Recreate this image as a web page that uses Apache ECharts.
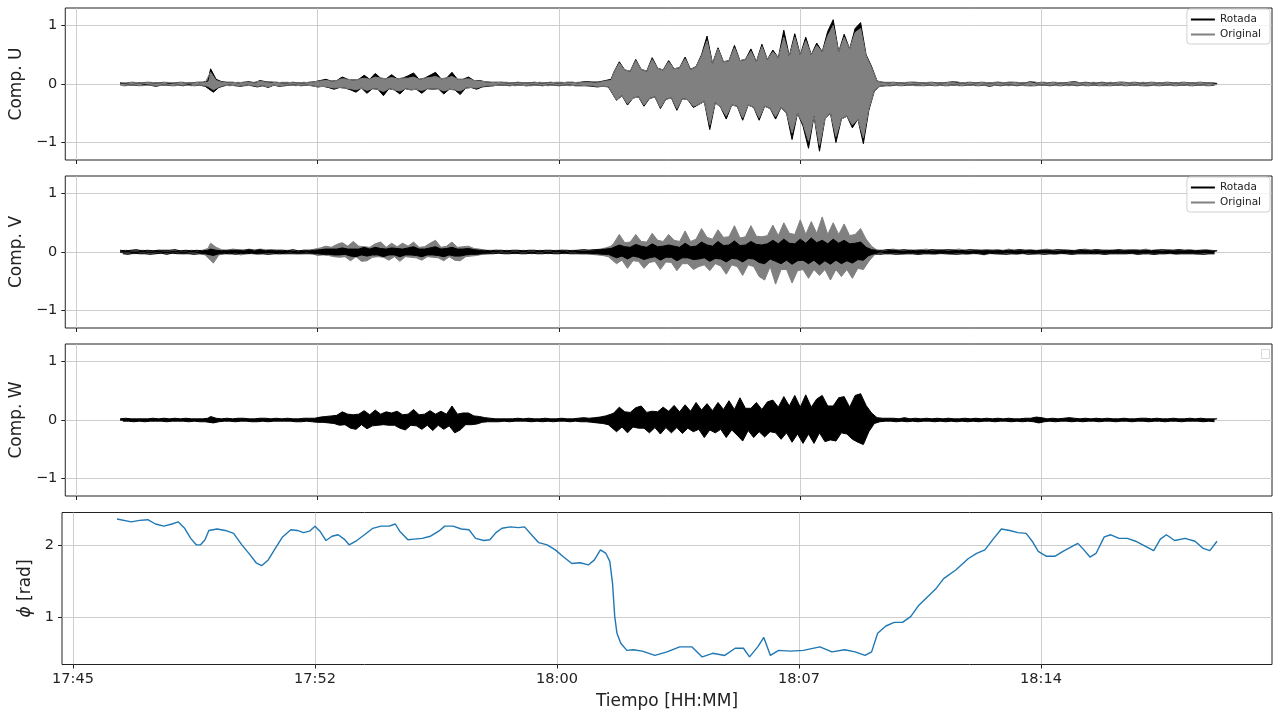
<!DOCTYPE html>
<html><head><meta charset="utf-8">
<script src="https://cdn.jsdelivr.net/npm/echarts@6/dist/echarts.min.js"></script>
<style>html,body{margin:0;padding:0;background:#fff}#c{width:1277px;height:715px}</style>
</head><body><div id="c"></div>
<script>
// time in seconds after 17:45:00
const startSec = 100, stepSec = 5;
const tickSec = [20, 460, 900, 1340, 1780];
const ampTicks = [-1, 0, 1];
const phiTicks = [1, 2];

const uRot = [
0.02,-0.03,0.01,-0.02,0.03,-0.02,0.02,-0.03,0.02,-0.01,
0.03,-0.02,0.02,-0.04,0.02,-0.02,0.03,-0.02,0.01,-0.03,
0.02,-0.02,0.03,-0.03,0.02,-0.01,0.02,-0.03,0.03,-0.02,
0.03,-0.04,0.05,0.26,-0.14,0.08,-0.06,0.04,-0.03,0.03,
-0.02,0.03,-0.03,0.02,-0.04,0.03,-0.02,0.04,-0.03,0.02,
-0.05,0.06,-0.03,0.04,-0.06,0.03,-0.02,0.03,-0.04,0.02,
-0.03,0.02,-0.02,0.03,-0.02,0.02,-0.03,0.02,-0.02,0.03,
-0.03,0.04,-0.05,0.06,-0.04,0.08,-0.06,0.05,-0.09,0.06,
-0.06,0.12,-0.07,0.08,-0.1,0.07,-0.14,0.08,-0.07,0.15,
-0.16,0.08,-0.08,0.18,-0.09,0.1,-0.2,0.09,-0.08,0.16,
-0.1,0.09,-0.17,0.1,-0.08,0.14,-0.1,0.19,-0.09,0.08,
-0.16,0.1,-0.08,0.15,-0.09,0.2,-0.08,0.09,-0.17,0.1,
-0.09,0.2,-0.1,0.08,-0.18,0.08,-0.07,0.12,-0.06,0.06,
-0.09,0.06,-0.05,0.04,-0.04,0.03,-0.03,0.03,-0.02,0.03,
-0.02,0.02,-0.03,0.02,-0.02,0.03,-0.02,0.02,-0.03,0.02,
-0.02,0.03,-0.02,0.02,-0.03,0.02,-0.02,0.03,-0.02,0.02,
-0.03,0.02,-0.02,0.03,-0.02,0.03,-0.03,0.02,-0.03,0.04,
-0.03,0.04,-0.04,0.03,-0.05,0.04,-0.04,0.06,-0.05,0.08,
0.2,-0.28,0.38,-0.2,0.24,-0.36,0.22,-0.24,0.42,-0.22,
0.25,-0.38,0.22,-0.25,0.45,-0.22,0.27,-0.42,0.24,-0.26,
0.4,-0.24,0.26,-0.45,0.28,-0.25,0.46,-0.27,0.25,-0.4,
0.3,-0.35,0.5,-0.3,0.82,-0.78,0.35,-0.32,0.62,-0.4,
0.38,-0.6,0.4,-0.36,0.66,-0.38,0.4,-0.62,0.42,-0.36,
0.6,-0.4,0.38,-0.62,0.68,-0.38,0.42,-0.42,0.58,-0.6,
0.45,-0.4,0.92,-0.5,0.48,-0.95,0.86,-0.5,0.5,-0.72,
0.8,-1.1,0.5,-0.55,0.7,-1.15,0.55,-0.6,0.9,-0.5,
1.1,-1.0,0.55,-0.6,0.85,-0.55,0.6,-0.75,0.95,-0.6,
1.05,-1.02,0.5,-0.45,0.3,-0.12,0.05,-0.04,0.03,-0.03,
0.02,-0.03,0.03,-0.02,0.02,-0.03,0.02,-0.02,0.03,-0.02,
0.03,-0.02,0.02,-0.03,0.02,-0.02,0.03,-0.03,0.02,-0.02,
0.02,-0.03,0.03,-0.02,0.04,-0.02,0.02,-0.03,0.02,-0.02,
0.03,-0.02,0.02,-0.03,0.03,-0.02,0.02,-0.04,0.02,-0.02,
0.03,-0.03,0.02,-0.02,0.03,-0.02,0.03,-0.03,0.02,-0.02,
0.02,-0.03,0.04,-0.03,0.02,-0.02,0.03,-0.02,0.02,-0.03,
0.03,-0.02,0.02,-0.03,0.02,-0.02,0.03,-0.02,0.04,-0.03,
0.02,-0.02,0.03,-0.03,0.02,-0.02,0.02,-0.03,0.03,-0.02,
0.02,-0.03,0.02,-0.02,0.03,-0.02,0.03,-0.03,0.02,-0.02,
0.03,-0.02,0.02,-0.03,0.02,-0.03,0.03,-0.02,0.02,-0.03,
0.02,-0.02,0.03,-0.02,0.02,-0.03,0.02,-0.02,0.03,-0.02,
0.02,-0.03,0.02,-0.02,0.03,-0.02,0.02,-0.03,0.02,-0.02,
0.01];

const uOrig = [
-0.02,0.02,-0.03,0.02,-0.02,0.03,-0.02,0.02,-0.03,0.02,
-0.02,0.03,-0.02,0.02,-0.03,0.02,-0.02,0.03,-0.02,0.02,
-0.03,0.02,-0.02,0.03,-0.02,0.02,-0.03,0.02,-0.02,0.03,
-0.02,0.03,-0.04,0.2,-0.1,0.06,-0.05,0.03,-0.02,0.02,
-0.03,0.02,-0.02,0.03,-0.03,0.02,-0.03,0.03,-0.02,0.03,
-0.04,0.05,-0.03,0.03,-0.05,0.04,-0.02,0.02,-0.03,0.03,
-0.02,0.03,-0.02,0.02,-0.03,0.02,-0.02,0.03,-0.02,0.02,
-0.03,0.04,-0.05,0.05,-0.04,0.06,-0.05,0.05,-0.07,0.06,
-0.06,0.09,-0.07,0.08,-0.08,0.07,-0.1,0.08,-0.07,0.1,
-0.11,0.08,-0.08,0.12,-0.09,0.1,-0.13,0.09,-0.08,0.11,
-0.1,0.09,-0.12,0.1,-0.08,0.1,-0.1,0.12,-0.09,0.08,
-0.11,0.1,-0.08,0.11,-0.09,0.13,-0.08,0.09,-0.12,0.1,
-0.09,0.13,-0.1,0.08,-0.12,0.08,-0.07,0.09,-0.06,0.06,
-0.07,0.05,-0.04,0.04,-0.03,0.03,-0.03,0.02,-0.02,0.03,
-0.02,0.03,-0.02,0.02,-0.03,0.02,-0.02,0.02,-0.03,0.02,
-0.03,0.02,-0.02,0.03,-0.02,0.02,-0.03,0.02,-0.02,0.03,
-0.02,0.03,-0.02,0.02,-0.03,0.02,-0.02,0.03,-0.02,0.03,
-0.03,0.03,-0.03,0.04,-0.04,0.03,-0.04,0.05,-0.04,0.06,
0.2,-0.28,0.36,-0.2,0.24,-0.34,0.22,-0.24,0.4,-0.22,
0.25,-0.36,0.22,-0.25,0.42,-0.22,0.27,-0.4,0.24,-0.26,
0.38,-0.24,0.26,-0.42,0.28,-0.25,0.43,-0.27,0.25,-0.38,
0.3,-0.35,0.48,-0.3,0.74,-0.7,0.35,-0.32,0.6,-0.4,
0.38,-0.55,0.4,-0.36,0.62,-0.38,0.4,-0.58,0.42,-0.36,
0.56,-0.4,0.38,-0.58,0.64,-0.38,0.42,-0.42,0.55,-0.56,
0.45,-0.4,0.8,-0.5,0.48,-0.84,0.8,-0.5,0.5,-0.68,
0.74,-0.98,0.5,-0.55,0.66,-1.05,0.55,-0.6,0.82,-0.5,
1.0,-0.9,0.55,-0.6,0.8,-0.55,0.6,-0.7,0.88,-0.6,
0.95,-0.92,0.48,-0.42,0.28,-0.12,0.05,-0.04,0.03,-0.03,
-0.02,0.03,-0.02,0.02,-0.03,0.02,-0.02,0.03,-0.02,0.02,
-0.03,0.02,-0.03,0.02,-0.02,0.03,-0.02,0.02,-0.03,0.02,
-0.02,0.02,-0.03,0.03,-0.02,0.04,-0.03,0.02,-0.02,0.03,
-0.02,0.02,-0.03,0.02,-0.02,0.03,-0.02,0.02,-0.03,0.03,
-0.02,0.03,-0.02,0.02,-0.03,0.02,-0.02,0.03,-0.02,0.02,
-0.03,0.02,-0.02,0.04,-0.03,0.02,-0.02,0.03,-0.02,0.02,
-0.02,0.03,-0.03,0.02,-0.02,0.02,-0.03,0.03,-0.02,0.03,
-0.02,0.02,-0.03,0.02,-0.02,0.03,-0.02,0.02,-0.03,0.02,
-0.03,0.03,-0.02,0.02,-0.02,0.03,-0.03,0.02,-0.02,0.03,
-0.02,0.02,-0.03,0.03,-0.02,0.02,-0.02,0.03,-0.03,0.02,
-0.02,0.03,-0.02,0.02,-0.03,0.02,-0.02,0.03,-0.02,0.02,
-0.03,0.02,-0.02,0.03,-0.02,0.02,-0.03,0.02,-0.02,0.02,
-0.01];

const vRot = [
0.03,-0.03,0.02,-0.04,0.03,-0.02,0.04,-0.03,0.02,-0.03,
0.03,-0.04,0.02,-0.03,0.03,-0.02,0.03,-0.04,0.03,-0.02,
0.04,-0.03,0.02,-0.03,0.03,-0.03,0.02,-0.04,0.03,-0.03,
0.02,-0.03,0.03,0.05,-0.06,0.03,-0.03,0.02,-0.03,0.03,
-0.02,0.03,-0.04,0.03,-0.02,0.03,-0.03,0.04,-0.02,0.03,
-0.03,0.04,-0.03,0.02,-0.04,0.03,-0.03,0.03,-0.02,0.03,
-0.03,0.02,-0.03,0.04,-0.03,0.02,-0.03,0.03,-0.03,0.03,
-0.03,0.03,-0.03,0.04,-0.04,0.05,-0.04,0.05,-0.05,0.05,
-0.05,0.07,-0.04,0.05,-0.07,0.05,-0.08,0.05,-0.05,0.08,
-0.07,0.05,-0.05,0.08,-0.05,0.06,-0.08,0.05,-0.05,0.07,
-0.05,0.06,-0.08,0.05,-0.05,0.07,-0.05,0.09,-0.06,0.05,
-0.08,0.05,-0.05,0.07,-0.05,0.09,-0.06,0.05,-0.08,0.06,
-0.05,0.08,-0.07,0.05,-0.07,0.05,-0.05,0.06,-0.04,0.04,
-0.04,0.03,-0.03,0.03,-0.03,0.02,-0.03,0.03,-0.02,0.03,
-0.03,0.02,-0.03,0.03,-0.02,0.03,-0.03,0.02,-0.03,0.03,
-0.02,0.03,-0.03,0.02,-0.03,0.03,-0.02,0.03,-0.03,0.02,
-0.03,0.03,-0.02,0.03,-0.03,0.02,-0.03,0.03,-0.03,0.04,
-0.03,0.03,-0.03,0.04,-0.03,0.04,-0.04,0.05,-0.04,0.06,
0.08,-0.1,0.12,-0.07,0.09,-0.12,0.08,-0.07,0.13,-0.09,
0.1,-0.13,0.08,-0.1,0.14,-0.08,0.09,-0.14,0.1,-0.09,
0.12,-0.09,0.1,-0.15,0.08,-0.1,0.15,-0.1,0.09,-0.13,
0.1,-0.12,0.17,-0.1,0.12,-0.16,0.1,-0.11,0.18,-0.12,
0.11,-0.17,0.12,-0.11,0.19,-0.12,0.11,-0.17,0.12,-0.11,
0.18,-0.12,0.13,-0.18,0.12,-0.2,0.14,-0.12,0.2,-0.16,
0.14,-0.2,0.22,-0.14,0.15,-0.21,0.14,-0.15,0.22,-0.14,
0.15,-0.2,0.24,-0.14,0.16,-0.22,0.2,-0.15,0.14,-0.21,
0.22,-0.14,0.15,-0.2,0.2,-0.15,0.14,-0.19,0.15,-0.13,
0.17,-0.14,0.08,-0.06,0.04,-0.03,0.03,-0.04,0.03,-0.03,
0.04,-0.03,0.03,-0.04,0.03,-0.03,0.04,-0.03,0.02,-0.03,
0.03,-0.04,0.03,-0.03,0.02,-0.03,0.04,-0.03,0.03,-0.02,
0.03,-0.03,0.04,-0.03,0.03,-0.04,0.02,-0.03,0.03,-0.03,
0.04,-0.02,0.03,-0.03,0.03,-0.04,0.03,-0.02,0.03,-0.03,
0.03,-0.03,0.02,-0.04,0.03,-0.03,0.03,-0.03,0.04,-0.02,
0.03,-0.04,0.03,-0.03,0.02,-0.03,0.03,-0.04,0.03,-0.03,
0.03,-0.03,0.04,-0.02,0.03,-0.03,0.03,-0.04,0.02,-0.03,
0.04,-0.03,0.03,-0.03,0.03,-0.02,0.04,-0.03,0.03,-0.04,
0.03,-0.03,0.02,-0.03,0.04,-0.03,0.03,-0.03,0.03,-0.02,
0.03,-0.04,0.03,-0.03,0.03,-0.03,0.02,-0.04,0.03,-0.03,
0.04,-0.03,0.03,-0.02,0.03,-0.03,0.04,-0.03,0.03,-0.03,
0.03,-0.03,0.02,-0.03,0.03,-0.04,0.03,-0.03,0.02,-0.03,
0.02];

const vOrig = [
0.02,-0.02,0.03,-0.02,0.02,-0.03,0.02,-0.02,0.03,-0.02,
0.02,-0.03,0.02,-0.02,0.03,-0.02,0.02,-0.03,0.02,-0.02,
0.03,-0.02,0.02,-0.03,0.02,-0.02,0.03,-0.02,0.02,-0.03,
0.03,-0.05,0.06,0.15,-0.19,0.08,-0.05,0.04,-0.03,0.03,
-0.04,0.05,-0.03,0.04,-0.05,0.03,-0.03,0.05,-0.03,0.03,
-0.04,0.05,-0.03,0.04,-0.03,0.04,-0.03,0.03,-0.04,0.03,
-0.03,0.03,-0.02,0.03,-0.03,0.02,-0.03,0.03,-0.02,0.03,
-0.03,0.05,-0.06,0.07,-0.05,0.1,-0.06,0.08,-0.08,0.13,
-0.09,0.16,-0.08,0.1,-0.15,0.18,-0.08,0.1,-0.16,0.09,
-0.15,0.08,-0.09,0.14,-0.08,0.17,-0.09,0.08,-0.14,0.15,
-0.08,0.09,-0.16,0.15,-0.08,0.1,-0.09,0.17,-0.1,0.08,
-0.14,0.09,-0.08,0.15,-0.09,0.2,-0.1,0.08,-0.15,0.1,
-0.08,0.17,-0.14,0.08,-0.15,0.09,-0.08,0.1,-0.07,0.06,
-0.06,0.05,-0.04,0.03,-0.03,0.03,-0.02,0.03,-0.02,0.02,
-0.02,0.03,-0.02,0.02,-0.03,0.02,-0.02,0.03,-0.02,0.02,
-0.03,0.02,-0.02,0.03,-0.02,0.02,-0.03,0.02,-0.02,0.03,
-0.02,0.03,-0.03,0.02,-0.02,0.03,-0.02,0.03,-0.03,0.03,
-0.03,0.03,-0.04,0.04,-0.05,0.05,-0.06,0.07,-0.08,0.1,
0.15,-0.2,0.3,-0.14,0.16,-0.28,0.17,-0.15,0.3,-0.16,
0.18,-0.28,0.17,-0.18,0.32,-0.16,0.2,-0.3,0.18,-0.17,
0.3,-0.18,0.2,-0.32,0.18,-0.2,0.36,-0.2,0.18,-0.3,
0.22,-0.25,0.4,-0.22,0.25,-0.32,0.22,-0.2,0.38,-0.24,
0.25,-0.38,0.26,-0.22,0.45,-0.25,0.24,-0.4,0.26,-0.22,
0.45,-0.25,0.27,-0.42,0.26,-0.48,0.28,-0.25,0.46,-0.55,
0.28,-0.3,0.5,-0.3,0.32,-0.53,0.3,-0.32,0.55,-0.3,
0.3,-0.45,0.52,-0.3,0.32,-0.4,0.6,-0.3,0.3,-0.48,
0.5,-0.3,0.3,-0.42,0.48,-0.3,0.28,-0.45,0.3,-0.28,
0.4,-0.3,0.22,-0.16,0.1,-0.05,0.03,-0.02,0.02,-0.03,
0.04,-0.03,0.05,-0.03,0.03,-0.04,0.03,-0.03,0.04,-0.03,
0.03,-0.04,0.04,-0.03,0.05,-0.03,0.03,-0.04,0.04,-0.03,
0.04,-0.03,0.03,-0.04,0.04,-0.03,0.05,-0.03,0.03,-0.04,
0.03,-0.03,0.04,-0.03,0.03,-0.05,0.04,-0.03,0.03,-0.03,
0.04,-0.04,0.03,-0.03,0.05,-0.03,0.03,-0.04,0.04,-0.03,
0.03,-0.03,0.04,-0.04,0.03,-0.03,0.04,-0.03,0.05,-0.03,
0.03,-0.04,0.03,-0.03,0.04,-0.03,0.03,-0.04,0.03,-0.03,
0.04,-0.03,0.05,-0.03,0.03,-0.04,0.04,-0.03,0.03,-0.04,
0.03,-0.03,0.04,-0.03,0.04,-0.03,0.03,-0.03,0.04,-0.03,
0.04,-0.04,0.03,-0.03,0.05,-0.03,0.03,-0.04,0.04,-0.03,
0.03,-0.03,0.04,-0.03,0.03,-0.04,0.04,-0.03,0.03,-0.03,
0.04,-0.03,0.03,-0.04,0.03,-0.03,0.04,-0.03,0.03,-0.03,
0.02];

const wRot = [
0.02,-0.02,0.03,-0.02,0.02,-0.03,0.02,-0.02,0.02,-0.03,
0.02,-0.02,0.03,-0.02,0.02,-0.02,0.03,-0.03,0.02,-0.02,
0.03,-0.02,0.02,-0.02,0.03,-0.03,0.02,-0.02,0.02,-0.03,
0.02,-0.03,0.03,0.06,-0.05,0.03,-0.03,0.02,-0.02,0.03,
-0.02,0.02,-0.03,0.03,-0.02,0.03,-0.02,0.02,-0.03,0.02,
-0.03,0.03,-0.02,0.03,-0.03,0.02,-0.02,0.03,-0.02,0.02,
-0.02,0.03,-0.02,0.02,-0.03,0.02,-0.03,0.03,-0.02,0.03,
-0.03,0.03,-0.04,0.05,-0.04,0.06,-0.05,0.07,-0.06,0.08,
-0.09,0.14,-0.08,0.1,-0.14,0.09,-0.16,0.1,-0.08,0.16,
-0.15,0.09,-0.1,0.17,-0.09,0.1,-0.08,0.14,-0.09,0.12,
-0.09,0.15,-0.14,0.09,-0.17,0.1,-0.09,0.18,-0.1,0.09,
-0.16,0.1,-0.09,0.16,-0.18,0.1,-0.09,0.15,-0.16,0.1,
-0.1,0.24,-0.22,0.1,-0.17,0.12,-0.08,0.12,-0.08,0.07,
-0.07,0.06,-0.04,0.04,-0.03,0.03,-0.03,0.02,-0.03,0.02,
-0.02,0.02,-0.03,0.02,-0.02,0.03,-0.02,0.02,-0.02,0.03,
-0.03,0.02,-0.02,0.02,-0.03,0.03,-0.02,0.02,-0.03,0.02,
-0.02,0.03,-0.02,0.02,-0.03,0.02,-0.02,0.03,-0.03,0.04,
-0.03,0.03,-0.04,0.04,-0.05,0.05,-0.06,0.07,-0.08,0.1,
0.12,-0.2,0.22,-0.12,0.14,-0.22,0.13,-0.12,0.21,-0.14,
0.24,-0.14,0.13,-0.22,0.15,-0.13,0.14,-0.24,0.22,-0.13,
0.15,-0.22,0.25,-0.13,0.14,-0.23,0.26,-0.14,0.15,-0.2,
0.3,-0.16,0.17,-0.3,0.28,-0.17,0.16,-0.22,0.3,-0.16,
0.18,-0.3,0.33,-0.17,0.18,-0.26,0.38,-0.36,0.2,-0.18,
0.2,-0.3,0.3,-0.2,0.18,-0.29,0.31,-0.2,0.34,-0.22,
0.22,-0.33,0.4,-0.22,0.24,-0.38,0.42,-0.24,0.22,-0.4,
0.43,-0.24,0.22,-0.4,0.36,-0.22,0.42,-0.37,0.24,-0.34,
0.24,-0.36,0.38,-0.22,0.4,-0.24,0.22,-0.33,0.42,-0.38,
0.45,-0.42,0.25,-0.2,0.12,-0.06,0.04,-0.03,0.03,-0.02,
0.03,-0.02,0.03,-0.03,0.02,-0.02,0.04,-0.03,0.02,-0.02,
0.03,-0.03,0.02,-0.02,0.03,-0.02,0.02,-0.03,0.03,-0.02,
0.02,-0.03,0.03,-0.02,0.02,-0.03,0.02,-0.02,0.03,-0.03,
0.02,-0.02,0.03,-0.03,0.02,-0.02,0.03,-0.02,0.02,-0.03,
0.03,-0.02,0.02,-0.02,0.03,-0.03,0.02,-0.02,0.02,-0.03,
0.03,-0.02,0.03,-0.03,0.05,-0.05,0.04,-0.03,0.02,-0.02,
0.03,-0.03,0.02,-0.02,0.03,-0.02,0.04,-0.03,0.03,-0.02,
0.02,-0.03,0.03,-0.02,0.02,-0.02,0.03,-0.03,0.02,-0.02,
0.03,-0.02,0.02,-0.03,0.02,-0.02,0.03,-0.02,0.02,-0.03,
0.02,-0.02,0.03,-0.02,0.03,-0.03,0.02,-0.02,0.03,-0.02,
0.02,-0.03,0.02,-0.02,0.03,-0.02,0.02,-0.03,0.02,-0.02,
0.03,-0.02,0.02,-0.02,0.03,-0.03,0.02,-0.02,0.02,-0.03,
0.02];

const phiSec = [100,126,141,156,170,185,200,211,223,234,244,252,260,267,282,297,312,327,342,353,363,375,387,401,416,428,439,450,460,469,480,491,502,513,522,536,550,565,580,595,606,614,629,640,655,670,685,696,711,726,740,752,767,778,789,800,815,830,841,856,867,882,897,912,927,942,957,968,979,989,996,1001,1005,1009,1016,1027,1039,1055,1078,1100,1123,1145,1164,1183,1205,1224,1239,1250,1265,1276,1288,1303,1325,1348,1378,1400,1423,1442,1460,1472,1483,1498,1513,1528,1543,1558,1573,1588,1603,1625,1648,1663,1678,1693,1708,1723,1738,1753,1764,1775,1790,1805,1820,1835,1847,1858,1869,1880,1895,1907,1922,1937,1952,1970,1985,1997,2008,2023,2042,2060,2075,2087,2100];
const phiVal = [2.37,2.33,2.35,2.36,2.30,2.27,2.30,2.33,2.24,2.10,2.01,2.01,2.08,2.21,2.23,2.21,2.17,2.01,1.87,1.76,1.72,1.80,1.95,2.12,2.22,2.21,2.18,2.20,2.27,2.20,2.07,2.13,2.15,2.09,2.01,2.07,2.15,2.24,2.27,2.27,2.30,2.20,2.08,2.09,2.10,2.13,2.20,2.27,2.27,2.23,2.22,2.10,2.07,2.08,2.18,2.24,2.26,2.25,2.26,2.13,2.04,2.01,1.94,1.84,1.75,1.76,1.73,1.80,1.94,1.89,1.78,1.47,1.01,0.78,0.64,0.54,0.55,0.53,0.47,0.52,0.59,0.59,0.45,0.50,0.47,0.57,0.57,0.45,0.59,0.72,0.47,0.54,0.53,0.54,0.59,0.52,0.55,0.52,0.47,0.52,0.78,0.88,0.93,0.93,1.01,1.17,1.28,1.39,1.54,1.66,1.82,1.89,1.94,2.09,2.23,2.21,2.18,2.17,2.06,1.92,1.85,1.85,1.92,1.98,2.03,1.94,1.84,1.89,2.12,2.15,2.10,2.10,2.06,1.99,1.93,2.09,2.15,2.07,2.10,2.06,1.96,1.93,2.06];

const FONT = 'DejaVu Sans';
const toPairs = arr => arr.map((v, i) => [startSec + i * stepSec, v]);
const phiPairs = phiSec.map((t, i) => [t, phiVal[i]]);

function fmtTime(v) {
  const tot = 17 * 60 + 45 + Math.floor(v / 60);
  const h = Math.floor(tot / 60), m = tot % 60;
  return h + ':' + (m < 10 ? '0' : '') + m;
}
function fmtNum(v) { return v < 0 ? '\u2212' + (-v) : String(v); }

const tops = [8, 176, 344, 512.5];
const grids = tops.map(t => ({
  left: 62, right: 5, top: t, height: 152,
  show: true, borderColor: '#222', borderWidth: 1, backgroundColor: '#fff'
}));

const gridLine = { show: true, lineStyle: { color: '#c2c2c2', width: 0.8 } };
const xAxes = tops.map((t, i) => ({
  type: 'value', gridIndex: i, min: 0, max: 2200,
  axisLine: { show: false, onZero: false },
  axisTick: { show: true, length: 4, customValues: tickSec, lineStyle: { color: '#222' } },
  axisLabel: { show: i === 3, customValues: tickSec, formatter: fmtTime, margin: 7,
    fontFamily: FONT, fontSize: 14.5, color: '#222' },
  splitLine: gridLine,
  name: i === 3 ? 'Tiempo [HH:MM]' : '', nameLocation: 'middle', nameGap: 29,
  nameTextStyle: { fontFamily: FONT, fontSize: 17, color: '#222' }
}));
const yNames = ['Comp. U', 'Comp. V', 'Comp. W', '{i|\u03d5} [rad]'];
const yAxes = tops.map((t, i) => ({
  type: 'value', gridIndex: i,
  min: i === 3 ? 0.344 : -1.3, max: i === 3 ? 2.46 : 1.3,
  axisLine: { show: false, onZero: false },
  axisTick: { show: true, length: 4, customValues: i === 3 ? phiTicks : ampTicks, lineStyle: { color: '#222' } },
  axisLabel: { customValues: i === 3 ? phiTicks : ampTicks, formatter: fmtNum, margin: 8,
    fontFamily: FONT, fontSize: 14.5, color: '#222' },
  splitLine: gridLine,
  name: yNames[i], nameLocation: 'middle', nameRotate: 90, nameGap: i === 3 ? 25 : 37,
  nameTextStyle: { fontFamily: FONT, fontSize: 17, color: '#222',
    rich: { i: { fontFamily: FONT, fontSize: 17, fontStyle: 'italic', color: '#222' } } }
}));

// one oscillating trace -> two filled halves (positive peaks, negative peaks)
function wave(name, data, xi, color) {
  const pts = toPairs(data);
  const common = {
    type: 'line', name, xAxisIndex: xi, yAxisIndex: xi,
    showSymbol: false, symbol: 'none', color, silent: true, animation: false,
    lineStyle: { color, width: 1 }
  };
  return [
    Object.assign({}, common, { data: pts.filter(p => p[1] >= 0),
      areaStyle: { color, opacity: 1, origin: -0.012 } }),
    Object.assign({}, common, { data: pts.filter(p => p[1] <= 0),
      areaStyle: { color, opacity: 1, origin: 0.012 } })
  ];
}

const legendBase = {
  orient: 'vertical', right: 7, data: ['Rotada', 'Original'], icon: 'rect',
  itemWidth: 24, itemHeight: 2, itemGap: 4, padding: [5, 9, 4, 4],
  backgroundColor: 'rgba(255,255,255,0.8)', borderColor: '#d0d0d0', borderWidth: 1, borderRadius: 3,
  textStyle: { fontFamily: FONT, fontSize: 10.5, color: '#222' }, selectedMode: false
};

const option = {
  backgroundColor: '#fff',
  animation: false,
  grid: grids,
  xAxis: xAxes,
  yAxis: yAxes,
  legend: [Object.assign({ top: 9 }, legendBase), Object.assign({ top: 177 }, legendBase)],
  graphic: [{ type: 'rect', left: 1261, top: 349, shape: { width: 8, height: 9 },
    style: { fill: '#fff', stroke: '#d8d8d8', lineWidth: 1 } }],
  series: [].concat(
    wave('Rotada', uRot, 0, '#000000'),
    wave('Original', uOrig, 0, '#808080'),
    wave('Original', vOrig, 1, '#808080'),
    wave('Rotada', vRot, 1, '#000000'),
    wave('W', wRot, 2, '#000000'),
    [{ type: 'line', name: 'phi', xAxisIndex: 3, yAxisIndex: 3, data: phiPairs,
      showSymbol: false, symbol: 'none', color: '#1f77b4', silent: true,
      lineStyle: { color: '#1f77b4', width: 1.4 } }]
  )
};
const chart = echarts.init(document.getElementById('c'));
chart.setOption(option);
</script></body></html>
